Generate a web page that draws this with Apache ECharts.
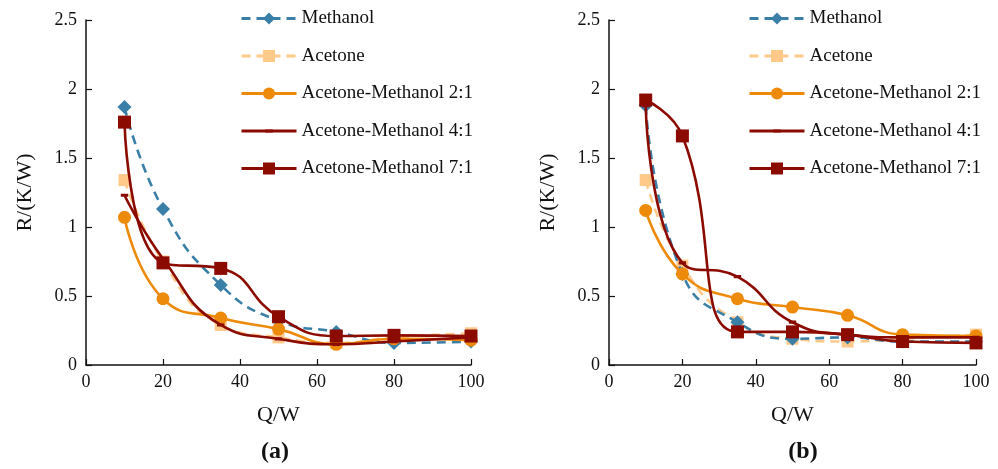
<!DOCTYPE html>
<html>
<head>
<meta charset="utf-8">
<script src="https://cdn.jsdelivr.net/npm/echarts@6/dist/echarts.min.js"></script>
<style>
  html, body { margin: 0; padding: 0; background: #fff; }
  #chart { width: 998px; height: 469px; }
</style>
</head>
<body>
<div id="chart"></div>
<script>
// Heat input levels (W)
const heatInput = [10, 20, 35, 50, 65, 80, 100];
const seriesNames = ['Methanol', 'Acetone', 'Acetone-Methanol 2:1', 'Acetone-Methanol 4:1', 'Acetone-Methanol 7:1'];
const panelLabels = ['(a)', '(b)'];

// Thermal resistance R (K/W), panel (a)
const methanolA = [1.87, 1.13, 0.58, 0.32, 0.24, 0.16, 0.17];
const acetoneA  = [1.34, 0.75, 0.29, 0.20, 0.16, 0.20, 0.23];
const ratio21A  = [1.07, 0.48, 0.34, 0.26, 0.15, 0.19, 0.18];
const ratio41A  = [1.23, 0.77, 0.29, 0.19, 0.15, 0.17, 0.20];
const ratio71A  = [1.76, 0.74, 0.70, 0.35, 0.21, 0.215, 0.21];

// Thermal resistance R (K/W), panel (b)
const methanolB = [1.88, 0.66, 0.31, 0.19, 0.20, 0.17, 0.17];
const acetoneB  = [1.34, 0.72, 0.31, 0.19, 0.17, 0.19, 0.22];
const ratio21B  = [1.12, 0.66, 0.48, 0.42, 0.36, 0.22, 0.21];
const ratio41B  = [1.88, 0.74, 0.64, 0.31, 0.22, 0.20, 0.20];
const ratio71B  = [1.92, 1.66, 0.24, 0.24, 0.22, 0.17, 0.16];

const FONT = "'Liberation Serif', 'Times New Roman', serif";
const BLUE = '#3a7fa8';
const PEACH = '#ffc98a';
const ORANGE = '#ee8a0a';
const DARKRED = '#8c0b00';

// Small flat marker drawn inside a padded box so it stays small in the legend too
const smallBar = 'path://M0,0Z M12,12Z M2.3,4.4L9.7,4.4L9.7,7.6L2.3,7.6Z';

const styles = [
  { color: BLUE,    dash: [9, 6], symbol: 'diamond', size: 14, z: 2 },
  { color: PEACH,   dash: [9, 6], symbol: 'rect',    size: 12, z: 1 },
  { color: ORANGE,  dash: null,   symbol: 'circle',  size: 13, z: 3 },
  { color: DARKRED, dash: null,   symbol: smallBar,  size: 12, z: 4 },
  { color: DARKRED, dash: null,   symbol: 'rect',    size: 13, z: 5 }
];

function pairs(values) {
  return heatInput.map((q, i) => [q, values[i]]);
}

function buildSeries(panel, sets) {
  return sets.map((vals, i) => ({
    name: seriesNames[i],
    type: 'line',
    xAxisIndex: panel,
    yAxisIndex: panel,
    data: pairs(vals),
    smooth: 0.5,
    symbol: styles[i].symbol,
    symbolSize: styles[i].size,
    showAllSymbol: true,
    z: styles[i].z,
    lineStyle: {
      color: styles[i].color,
      width: 2.6,
      type: styles[i].dash || 'solid'
    },
    itemStyle: { color: styles[i].color, borderWidth: 0 },
    emphasis: { disabled: true },
    animation: false
  }));
}

function xAxisFor(grid) {
  return {
    gridIndex: grid,
    type: 'value',
    min: 0, max: 100, interval: 20,
    name: 'Q/W',
    nameLocation: 'middle',
    nameGap: 39,
    nameTextStyle: { fontFamily: FONT, fontSize: 22, color: '#111' },
    axisLine: { show: true, lineStyle: { color: '#111', width: 1.5 } },
    axisTick: { show: true, inside: true, length: 6, lineStyle: { color: '#111', width: 1.2 } },
    axisLabel: { fontFamily: FONT, fontSize: 18, color: '#111', margin: 8 },
    splitLine: { show: false }
  };
}

function yAxisFor(grid) {
  return {
    gridIndex: grid,
    type: 'value',
    min: 0, max: 2.5, interval: 0.5,
    name: 'R/(K/W)',
    nameLocation: 'middle',
    nameGap: 50,
    nameTextStyle: { fontFamily: FONT, fontSize: 22, color: '#111' },
    axisLine: { show: true, lineStyle: { color: '#111', width: 1.5 } },
    axisTick: { show: true, inside: true, length: 6, lineStyle: { color: '#111', width: 1.2 } },
    axisLabel: { fontFamily: FONT, fontSize: 18, color: '#111', margin: 9 },
    splitLine: { show: false }
  };
}

function legendAt(left) {
  return {
    orient: 'vertical',
    left: left,
    top: 9,
    padding: 0,
    itemWidth: 55,
    itemHeight: 15,
    itemGap: 18.5,
    selectedMode: false,
    data: seriesNames,
    lineStyle: { width: 3 },
    textStyle: { fontFamily: FONT, fontSize: 19, color: '#111' }
  };
}

const chart = echarts.init(document.getElementById('chart'), null, { renderer: 'canvas' });

chart.setOption({
  backgroundColor: '#fff',
  animation: false,
  grid: [
    { left: 86, top: 20, width: 385, height: 345 },
    { left: 609, top: 20, width: 367, height: 345 }
  ],
  xAxis: [xAxisFor(0), xAxisFor(1)],
  yAxis: [yAxisFor(0), yAxisFor(1)],
  legend: [legendAt(240), legendAt(748)],
  graphic: [
    {
      type: 'text', x: 275, y: 452,
      style: { text: panelLabels[0], fontFamily: FONT, fontSize: 24, fontWeight: 'bold',
               fill: '#111', align: 'center', verticalAlign: 'middle' }
    },
    {
      type: 'text', x: 803, y: 452,
      style: { text: panelLabels[1], fontFamily: FONT, fontSize: 24, fontWeight: 'bold',
               fill: '#111', align: 'center', verticalAlign: 'middle' }
    }
  ],
  series: [
    ...buildSeries(0, [methanolA, acetoneA, ratio21A, ratio41A, ratio71A]),
    ...buildSeries(1, [methanolB, acetoneB, ratio21B, ratio41B, ratio71B])
  ]
});
</script>
</body>
</html>
